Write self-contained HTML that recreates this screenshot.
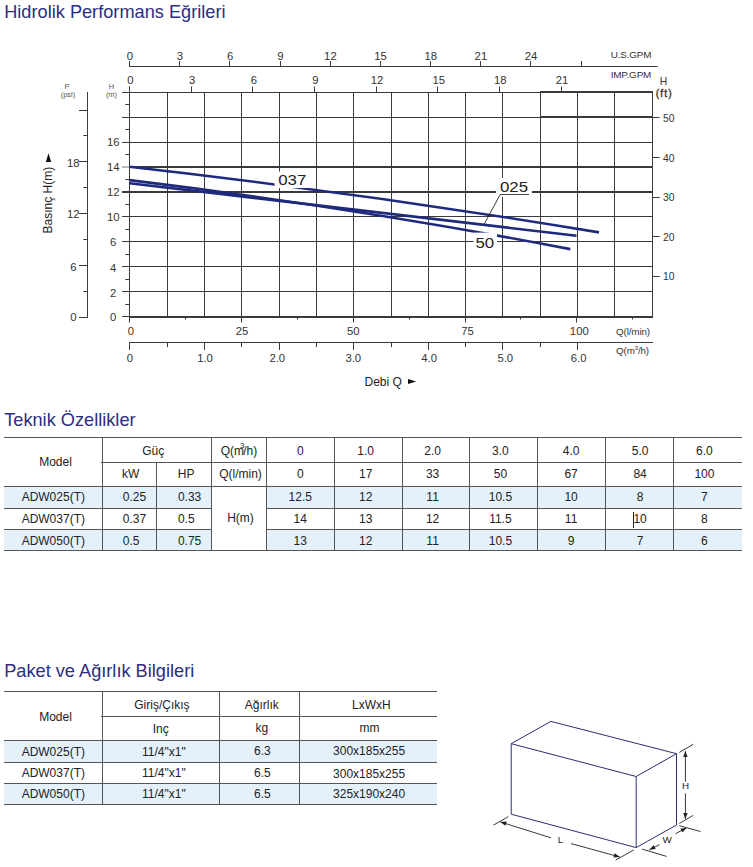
<!DOCTYPE html>
<html><head><meta charset="utf-8"><title>Hidrolik Performans Eğrileri</title>
<style>
html,body{margin:0;padding:0;background:#fff;}
body{width:753px;height:867px;position:relative;overflow:hidden;font-family:"Liberation Sans",Arial,sans-serif;}
.h{position:absolute;left:4.2px;margin:0;font-weight:normal;font-size:18.2px;color:#2c2e82;white-space:nowrap;line-height:1;}
svg{position:absolute;left:0;top:0;}
svg text{font-family:"Liberation Sans",Arial,sans-serif;fill:#333;}
.ax{font-size:11.3px;}
.ax11{font-size:10.4px;}
.ax2{font-size:9.9px;letter-spacing:-0.15px;}
.sm{font-size:7.5px;fill:#555 !important;}
.lbl{font-size:12px;fill:#222 !important;}
.big{font-size:14.4px;fill:#222 !important;}
.bx{font-size:9.8px;fill:#222 !important;}
.hl,.vl{position:absolute;}
.c{position:absolute;font-size:12px;color:#222;white-space:nowrap;}
.tt{font-size:12px;fill:#222 !important;}
.sup{font-size:8px;position:relative;top:-5px;margin-left:-4px;margin-right:-1px;}
</style></head><body>
<h1 class="h" style="top:3px">Hidrolik Performans Eğrileri</h1>
<h2 class="h" style="top:411px">Teknik Özellikler</h2>
<h2 class="h" style="top:662px">Paket ve Ağırlık Bilgileri</h2>
<div class="hl" style="left:4px;top:486px;width:207px;height:22px;background:#e4f1fb"></div>
<div class="hl" style="left:266px;top:486px;width:476px;height:22px;background:#e4f1fb"></div>
<div class="hl" style="left:4px;top:529px;width:207px;height:21px;background:#e4f1fb"></div>
<div class="hl" style="left:266px;top:529px;width:476px;height:21px;background:#e4f1fb"></div>
<div class="hl" style="left:4px;top:437px;width:738px;height:1px;background:#555"></div>
<div class="hl" style="left:101px;top:462px;width:641px;height:1px;background:#555"></div>
<div class="hl" style="left:4px;top:486px;width:738px;height:1px;background:#555"></div>
<div class="hl" style="left:4px;top:508px;width:207px;height:1px;background:#555"></div>
<div class="hl" style="left:266px;top:508px;width:476px;height:1px;background:#555"></div>
<div class="hl" style="left:4px;top:529px;width:207px;height:1px;background:#555"></div>
<div class="hl" style="left:266px;top:529px;width:476px;height:1px;background:#555"></div>
<div class="hl" style="left:4px;top:550px;width:738px;height:1px;background:#555"></div>
<div class="vl" style="left:102px;top:437px;width:1px;height:113px;background:#555"></div>
<div class="vl" style="left:156px;top:462px;width:1px;height:88px;background:#555"></div>
<div class="vl" style="left:211px;top:437px;width:1px;height:113px;background:#555"></div>
<div class="vl" style="left:266px;top:437px;width:1px;height:113px;background:#555"></div>
<div class="vl" style="left:334px;top:437px;width:1px;height:113px;background:#555"></div>
<div class="vl" style="left:402px;top:437px;width:1px;height:113px;background:#555"></div>
<div class="vl" style="left:469px;top:437px;width:1px;height:113px;background:#555"></div>
<div class="vl" style="left:537px;top:437px;width:1px;height:113px;background:#555"></div>
<div class="vl" style="left:605px;top:437px;width:1px;height:113px;background:#555"></div>
<div class="vl" style="left:673px;top:437px;width:1px;height:113px;background:#555"></div>
<div class="vl" style="left:633px;top:511.5px;width:1px;height:16.0px;background:#222"></div>
<div class="hl" style="left:4px;top:740px;width:433px;height:22px;background:#e4f1fb"></div>
<div class="hl" style="left:4px;top:783px;width:433px;height:21px;background:#e4f1fb"></div>
<div class="hl" style="left:4px;top:691px;width:433px;height:1px;background:#555"></div>
<div class="hl" style="left:101px;top:716px;width:336px;height:1px;background:#555"></div>
<div class="hl" style="left:4px;top:740px;width:433px;height:1px;background:#555"></div>
<div class="hl" style="left:4px;top:762px;width:433px;height:1px;background:#555"></div>
<div class="hl" style="left:4px;top:783px;width:433px;height:1px;background:#555"></div>
<div class="hl" style="left:4px;top:804px;width:433px;height:1px;background:#555"></div>
<div class="vl" style="left:102px;top:691px;width:1px;height:113px;background:#555"></div>
<div class="vl" style="left:219px;top:691px;width:1px;height:113px;background:#555"></div>
<div class="vl" style="left:299px;top:691px;width:1px;height:113px;background:#555"></div>
<svg width="753" height="867" viewBox="0 0 753 867">
<line x1="129" y1="66.5" x2="657.5" y2="66.5" stroke="#3a3a3a" stroke-width="1"/>
<line x1="129.5" y1="61" x2="129.5" y2="66.5" stroke="#3a3a3a" stroke-width="1"/>
<text x="129.8" y="60.4" class="ax" text-anchor="middle">0</text>
<line x1="179.5" y1="61" x2="179.5" y2="66.5" stroke="#3a3a3a" stroke-width="1"/>
<text x="180.0" y="60.4" class="ax" text-anchor="middle">3</text>
<line x1="229.5" y1="61" x2="229.5" y2="66.5" stroke="#3a3a3a" stroke-width="1"/>
<text x="230.1" y="60.4" class="ax" text-anchor="middle">6</text>
<line x1="280.5" y1="61" x2="280.5" y2="66.5" stroke="#3a3a3a" stroke-width="1"/>
<text x="280.3" y="60.4" class="ax" text-anchor="middle">9</text>
<line x1="330.5" y1="61" x2="330.5" y2="66.5" stroke="#3a3a3a" stroke-width="1"/>
<text x="330.4" y="60.4" class="ax" text-anchor="middle">12</text>
<line x1="380.5" y1="61" x2="380.5" y2="66.5" stroke="#3a3a3a" stroke-width="1"/>
<text x="380.6" y="60.4" class="ax" text-anchor="middle">15</text>
<line x1="430.5" y1="61" x2="430.5" y2="66.5" stroke="#3a3a3a" stroke-width="1"/>
<text x="430.8" y="60.4" class="ax" text-anchor="middle">18</text>
<line x1="480.5" y1="61" x2="480.5" y2="66.5" stroke="#3a3a3a" stroke-width="1"/>
<text x="480.9" y="60.4" class="ax" text-anchor="middle">21</text>
<line x1="530.5" y1="61" x2="530.5" y2="66.5" stroke="#3a3a3a" stroke-width="1"/>
<text x="531.1" y="60.4" class="ax" text-anchor="middle">24</text>
<line x1="581.5" y1="61" x2="581.5" y2="66.5" stroke="#3a3a3a" stroke-width="1"/>
<text x="610.7" y="58.3" class="ax2">U.S.GPM</text>
<text x="610.7" y="78.3" class="ax2">IMP.GPM</text>
<line x1="129.5" y1="86.5" x2="129.5" y2="92" stroke="#3a3a3a" stroke-width="1"/>
<text x="130.5" y="84.0" class="ax" text-anchor="middle">0</text>
<line x1="191.5" y1="86.5" x2="191.5" y2="92" stroke="#3a3a3a" stroke-width="1"/>
<text x="192.1" y="84.0" class="ax" text-anchor="middle">3</text>
<line x1="252.5" y1="86.5" x2="252.5" y2="92" stroke="#3a3a3a" stroke-width="1"/>
<text x="253.8" y="84.0" class="ax" text-anchor="middle">6</text>
<line x1="314.5" y1="86.5" x2="314.5" y2="92" stroke="#3a3a3a" stroke-width="1"/>
<text x="315.4" y="84.0" class="ax" text-anchor="middle">9</text>
<line x1="376.5" y1="86.5" x2="376.5" y2="92" stroke="#3a3a3a" stroke-width="1"/>
<text x="377.1" y="84.0" class="ax" text-anchor="middle">12</text>
<line x1="437.5" y1="86.5" x2="437.5" y2="92" stroke="#3a3a3a" stroke-width="1"/>
<text x="438.7" y="84.0" class="ax" text-anchor="middle">15</text>
<line x1="499.5" y1="86.5" x2="499.5" y2="92" stroke="#3a3a3a" stroke-width="1"/>
<text x="500.3" y="84.0" class="ax" text-anchor="middle">18</text>
<line x1="561.5" y1="86.5" x2="561.5" y2="92" stroke="#3a3a3a" stroke-width="1"/>
<text x="562.0" y="84.0" class="ax" text-anchor="middle">21</text>
<line x1="122" y1="92.5" x2="540" y2="92.5" stroke="#3a3a3a" stroke-width="1"/>
<line x1="122" y1="117.5" x2="540" y2="117.5" stroke="#3a3a3a" stroke-width="1"/>
<line x1="540" y1="92" x2="653" y2="92" stroke="#3a3a3a" stroke-width="2"/>
<line x1="540" y1="117" x2="653" y2="117" stroke="#3a3a3a" stroke-width="2"/>
<line x1="122" y1="142.5" x2="653" y2="142.5" stroke="#3a3a3a" stroke-width="1"/>
<line x1="122" y1="216.5" x2="653" y2="216.5" stroke="#3a3a3a" stroke-width="1"/>
<line x1="122" y1="241.5" x2="653" y2="241.5" stroke="#3a3a3a" stroke-width="1"/>
<line x1="122" y1="266.5" x2="653" y2="266.5" stroke="#3a3a3a" stroke-width="1"/>
<line x1="122" y1="291.5" x2="653" y2="291.5" stroke="#3a3a3a" stroke-width="1"/>
<line x1="122" y1="167" x2="129" y2="167" stroke="#aaa" stroke-width="1.6"/>
<line x1="129" y1="167" x2="653" y2="167" stroke="#3a3a3a" stroke-width="2"/>
<line x1="122" y1="192" x2="653" y2="192" stroke="#3a3a3a" stroke-width="2"/>
<line x1="122" y1="316.5" x2="129" y2="316.5" stroke="#3a3a3a" stroke-width="1"/>
<line x1="129" y1="317" x2="653" y2="317" stroke="#3a3a3a" stroke-width="2"/>
<line x1="125.3" y1="104.5" x2="129.5" y2="104.5" stroke="#3a3a3a" stroke-width="1"/>
<line x1="125.3" y1="129.5" x2="129.5" y2="129.5" stroke="#3a3a3a" stroke-width="1"/>
<line x1="125.3" y1="154.5" x2="129.5" y2="154.5" stroke="#3a3a3a" stroke-width="1"/>
<line x1="125.3" y1="179.5" x2="129.5" y2="179.5" stroke="#3a3a3a" stroke-width="1"/>
<line x1="125.3" y1="204.5" x2="129.5" y2="204.5" stroke="#3a3a3a" stroke-width="1"/>
<line x1="125.3" y1="229.5" x2="129.5" y2="229.5" stroke="#3a3a3a" stroke-width="1"/>
<line x1="125.3" y1="254.5" x2="129.5" y2="254.5" stroke="#3a3a3a" stroke-width="1"/>
<line x1="125.3" y1="279.5" x2="129.5" y2="279.5" stroke="#3a3a3a" stroke-width="1"/>
<line x1="125.3" y1="304.5" x2="129.5" y2="304.5" stroke="#3a3a3a" stroke-width="1"/>
<line x1="129.5" y1="86.5" x2="129.5" y2="317" stroke="#3a3a3a" stroke-width="1"/>
<line x1="167.5" y1="92" x2="167.5" y2="317" stroke="#3a3a3a" stroke-width="1"/>
<line x1="204.5" y1="92" x2="204.5" y2="317" stroke="#3a3a3a" stroke-width="1"/>
<line x1="241.5" y1="92" x2="241.5" y2="317" stroke="#3a3a3a" stroke-width="1"/>
<line x1="279.5" y1="92" x2="279.5" y2="317" stroke="#3a3a3a" stroke-width="1"/>
<line x1="316.5" y1="92" x2="316.5" y2="317" stroke="#3a3a3a" stroke-width="1"/>
<line x1="353.5" y1="92" x2="353.5" y2="317" stroke="#3a3a3a" stroke-width="1"/>
<line x1="391.5" y1="92" x2="391.5" y2="317" stroke="#3a3a3a" stroke-width="1"/>
<line x1="428.5" y1="92" x2="428.5" y2="317" stroke="#3a3a3a" stroke-width="1"/>
<line x1="465.5" y1="92" x2="465.5" y2="317" stroke="#3a3a3a" stroke-width="1"/>
<line x1="502.5" y1="92" x2="502.5" y2="317" stroke="#3a3a3a" stroke-width="1"/>
<line x1="540.5" y1="92" x2="540.5" y2="317" stroke="#3a3a3a" stroke-width="1"/>
<line x1="577.5" y1="92" x2="577.5" y2="317" stroke="#3a3a3a" stroke-width="1"/>
<line x1="614.5" y1="92" x2="614.5" y2="317" stroke="#3a3a3a" stroke-width="1"/>
<line x1="652.5" y1="92" x2="652.5" y2="317" stroke="#3a3a3a" stroke-width="1"/>
<text x="113.2" y="146.0" class="ax" text-anchor="middle">16</text>
<text x="113.2" y="171.1" class="ax" text-anchor="middle">14</text>
<text x="113.2" y="196.1" class="ax" text-anchor="middle">12</text>
<text x="113.2" y="221.1" class="ax" text-anchor="middle">10</text>
<text x="113.2" y="246.4" class="ax" text-anchor="middle">6</text>
<text x="113.2" y="271.5" class="ax" text-anchor="middle">4</text>
<text x="113.2" y="296.6" class="ax" text-anchor="middle">2</text>
<text x="113.2" y="320.5" class="ax" text-anchor="middle">0</text>
<text x="111.5" y="88.6" class="sm" text-anchor="middle">H</text>
<text x="111.5" y="97" class="sm" text-anchor="middle">(m)</text>
<text x="67" y="88.8" class="sm" text-anchor="middle">P</text>
<text x="68" y="97" class="sm" text-anchor="middle">(psi)</text>
<line x1="87.5" y1="92" x2="87.5" y2="318" stroke="#3a3a3a" stroke-width="1"/>
<line x1="79" y1="317.5" x2="87.5" y2="317.5" stroke="#3a3a3a" stroke-width="1"/>
<line x1="79" y1="265.5" x2="87.5" y2="265.5" stroke="#3a3a3a" stroke-width="1"/>
<line x1="79" y1="213.5" x2="87.5" y2="213.5" stroke="#3a3a3a" stroke-width="1"/>
<line x1="79" y1="161.5" x2="87.5" y2="161.5" stroke="#3a3a3a" stroke-width="1"/>
<line x1="79" y1="110.5" x2="87.5" y2="110.5" stroke="#3a3a3a" stroke-width="1"/>
<line x1="83.3" y1="291.5" x2="87.5" y2="291.5" stroke="#3a3a3a" stroke-width="1"/>
<line x1="83.3" y1="239.5" x2="87.5" y2="239.5" stroke="#3a3a3a" stroke-width="1"/>
<line x1="83.3" y1="187.5" x2="87.5" y2="187.5" stroke="#3a3a3a" stroke-width="1"/>
<line x1="83.3" y1="135.5" x2="87.5" y2="135.5" stroke="#3a3a3a" stroke-width="1"/>
<text x="73.3" y="320.9" class="ax" text-anchor="middle">0</text>
<text x="73.3" y="270.6" class="ax" text-anchor="middle">6</text>
<text x="73.3" y="218.4" class="ax" text-anchor="middle">12</text>
<text x="73.3" y="167.2" class="ax" text-anchor="middle">18</text>
<text transform="translate(52.3,233.5) rotate(-90)" class="lbl">Basınç H(m)</text>
<path d="M45.8,161.9 L51.2,161.9 L48.5,153.3 Z" fill="#111"/>
<line x1="652.5" y1="117.5" x2="659.7" y2="117.5" stroke="#3a3a3a" stroke-width="1"/>
<text x="663" y="121.5" class="ax11">50</text>
<line x1="652.5" y1="157.5" x2="659.7" y2="157.5" stroke="#3a3a3a" stroke-width="1"/>
<text x="663" y="161.6" class="ax11">40</text>
<line x1="652.5" y1="197.5" x2="659.7" y2="197.5" stroke="#3a3a3a" stroke-width="1"/>
<text x="663" y="201.4" class="ax11">30</text>
<line x1="652.5" y1="236.5" x2="659.7" y2="236.5" stroke="#3a3a3a" stroke-width="1"/>
<text x="663" y="240.7" class="ax11">20</text>
<line x1="652.5" y1="276.5" x2="659.7" y2="276.5" stroke="#3a3a3a" stroke-width="1"/>
<text x="663" y="280.3" class="ax11">10</text>
<text x="663.4" y="84.7" class="ax11" text-anchor="middle">H</text>
<text x="664.2" y="96.9" class="ax11" text-anchor="middle" font-size="9.8" letter-spacing="1.1" stroke="#333" stroke-width="0.35">(ft)</text>
<line x1="129.5" y1="317" x2="129.5" y2="322.5" stroke="#3a3a3a" stroke-width="1"/>
<text x="131" y="335.3" class="ax" text-anchor="middle">0</text>
<line x1="185.5" y1="317" x2="185.5" y2="319.5" stroke="#3a3a3a" stroke-width="1"/>
<line x1="241.5" y1="317" x2="241.5" y2="322.5" stroke="#3a3a3a" stroke-width="1"/>
<text x="242.1" y="335.3" class="ax" text-anchor="middle">25</text>
<line x1="297.5" y1="317" x2="297.5" y2="319.5" stroke="#3a3a3a" stroke-width="1"/>
<line x1="353.5" y1="317" x2="353.5" y2="322.5" stroke="#3a3a3a" stroke-width="1"/>
<text x="353.2" y="335.3" class="ax" text-anchor="middle">50</text>
<line x1="409.5" y1="317" x2="409.5" y2="319.5" stroke="#3a3a3a" stroke-width="1"/>
<line x1="465.5" y1="317" x2="465.5" y2="322.5" stroke="#3a3a3a" stroke-width="1"/>
<text x="467.6" y="335.3" class="ax" text-anchor="middle">75</text>
<line x1="520.5" y1="317" x2="520.5" y2="319.5" stroke="#3a3a3a" stroke-width="1"/>
<line x1="576.5" y1="317" x2="576.5" y2="322.5" stroke="#3a3a3a" stroke-width="1"/>
<text x="579.3" y="335.3" class="ax" text-anchor="middle">100</text>
<line x1="632.5" y1="317" x2="632.5" y2="319.5" stroke="#3a3a3a" stroke-width="1"/>
<text x="616" y="335" class="ax2">Q(l/min)</text>
<line x1="129" y1="342.5" x2="653" y2="342.5" stroke="#3a3a3a" stroke-width="1"/>
<line x1="129.5" y1="342.5" x2="129.5" y2="350" stroke="#3a3a3a" stroke-width="1"/>
<text x="130" y="362.4" class="ax" text-anchor="middle">0</text>
<line x1="167.5" y1="342.5" x2="167.5" y2="347" stroke="#3a3a3a" stroke-width="1"/>
<line x1="204.5" y1="342.5" x2="204.5" y2="350" stroke="#3a3a3a" stroke-width="1"/>
<text x="205" y="362.4" class="ax" text-anchor="middle">1.0</text>
<line x1="241.5" y1="342.5" x2="241.5" y2="347" stroke="#3a3a3a" stroke-width="1"/>
<line x1="279.5" y1="342.5" x2="279.5" y2="350" stroke="#3a3a3a" stroke-width="1"/>
<text x="277.3" y="362.4" class="ax" text-anchor="middle">2.0</text>
<line x1="316.5" y1="342.5" x2="316.5" y2="347" stroke="#3a3a3a" stroke-width="1"/>
<line x1="353.5" y1="342.5" x2="353.5" y2="350" stroke="#3a3a3a" stroke-width="1"/>
<text x="353.3" y="362.4" class="ax" text-anchor="middle">3.0</text>
<line x1="391.5" y1="342.5" x2="391.5" y2="347" stroke="#3a3a3a" stroke-width="1"/>
<line x1="428.5" y1="342.5" x2="428.5" y2="350" stroke="#3a3a3a" stroke-width="1"/>
<text x="429.2" y="362.4" class="ax" text-anchor="middle">4.0</text>
<line x1="465.5" y1="342.5" x2="465.5" y2="347" stroke="#3a3a3a" stroke-width="1"/>
<line x1="502.5" y1="342.5" x2="502.5" y2="350" stroke="#3a3a3a" stroke-width="1"/>
<text x="505.3" y="362.4" class="ax" text-anchor="middle">5.0</text>
<line x1="540.5" y1="342.5" x2="540.5" y2="347" stroke="#3a3a3a" stroke-width="1"/>
<line x1="577.5" y1="342.5" x2="577.5" y2="350" stroke="#3a3a3a" stroke-width="1"/>
<text x="578.6" y="362.4" class="ax" text-anchor="middle">6.0</text>
<text x="616" y="353.9" class="ax2">Q(m<tspan dy="-4" font-size="6">3</tspan><tspan dy="4">/h)</tspan></text>
<text x="364.5" y="385.5" class="lbl">Debi Q</text>
<path d="M408,378.9 L408,384 L416.2,381.4 Z" fill="#111"/>
<path d="M129.5,166.75 Q364.25,193.39 599,232.38" fill="none" stroke="#1f2a7c" stroke-width="2.6"/>
<path d="M129.5,183.25 Q353.00,209.49 576.5,235.73" fill="none" stroke="#1f2a7c" stroke-width="2.6"/>
<path d="M129.5,180.10 Q349.90,206.94 570.3,249.14" fill="none" stroke="#1f2a7c" stroke-width="2.6"/>
<rect x="274.6" y="171.6" width="38" height="16.4" fill="#fff"/>
<text transform="translate(278.2,185.3) scale(1.17,1)" class="big">037</text>
<rect x="495.9" y="177.8" width="36" height="19" fill="#fff"/>
<text transform="translate(500.0,191.7) scale(1.17,1)" class="big">025</text>
<line x1="500" y1="194.5" x2="529" y2="194.5" stroke="#444" stroke-width="1"/>
<line x1="500.2" y1="194.5" x2="484.3" y2="224" stroke="#222" stroke-width="0.9"/>
<rect x="473.6" y="232.6" width="23.4" height="18" fill="#fff"/>
<text transform="translate(475.5,247.9) scale(1.17,1)" class="big">50</text>
<line x1="550.8" y1="721.4" x2="511.2" y2="743.7" stroke="#2b3070" stroke-width="1.0"/>
<line x1="550.8" y1="721.4" x2="676.5" y2="753.7" stroke="#2b3070" stroke-width="1.0"/>
<line x1="511.2" y1="743.7" x2="636.2" y2="776.5" stroke="#2b3070" stroke-width="1.0"/>
<line x1="676.5" y1="753.7" x2="636.2" y2="776.5" stroke="#2b3070" stroke-width="1.0"/>
<line x1="511.2" y1="743.7" x2="511.2" y2="814.2" stroke="#2b3070" stroke-width="1.0"/>
<line x1="636.2" y1="776.5" x2="636.2" y2="847.6" stroke="#2b3070" stroke-width="1.0"/>
<line x1="676.5" y1="753.7" x2="676.5" y2="825" stroke="#2b3070" stroke-width="1.0"/>
<line x1="511.2" y1="814.2" x2="636.2" y2="847.6" stroke="#2b3070" stroke-width="1.0"/>
<line x1="636.2" y1="847.6" x2="676.5" y2="825" stroke="#2b3070" stroke-width="1.0"/>
<line x1="493.5" y1="825.1" x2="508.4" y2="816.6" stroke="#222" stroke-width="0.9"/>
<line x1="615.7" y1="860.1" x2="633.7" y2="850" stroke="#222" stroke-width="0.9"/>
<line x1="500.3" y1="821.9" x2="550.9" y2="837.8" stroke="#222" stroke-width="0.9"/>
<line x1="571.1" y1="843.6" x2="619.9" y2="857" stroke="#222" stroke-width="0.9"/>
<path d="M500.3,821.9 L506.7,821.6 L505.4,825.8 Z" fill="#222"/>
<path d="M619.9,857.0 L613.5,857.5 L614.7,853.3 Z" fill="#222"/>
<text x="560.4" y="843" class="bx" text-anchor="middle">L</text>
<line x1="679.3" y1="752.4" x2="693.2" y2="744.4" stroke="#222" stroke-width="0.9"/>
<line x1="679.3" y1="823.5" x2="693.2" y2="815.4" stroke="#222" stroke-width="0.9"/>
<line x1="685.4" y1="751" x2="685.4" y2="781.7" stroke="#222" stroke-width="0.9"/>
<line x1="685.4" y1="793.4" x2="685.4" y2="819.1" stroke="#222" stroke-width="0.9"/>
<path d="M685.4,751.0 L687.6,757.0 L683.2,757.0 Z" fill="#222"/>
<path d="M685.4,819.1 L683.2,813.1 L687.6,813.1 Z" fill="#222"/>
<text x="685.6" y="789.3" class="bx" text-anchor="middle">H</text>
<line x1="679.3" y1="825.7" x2="700.5" y2="831.5" stroke="#222" stroke-width="0.9"/>
<line x1="642" y1="849.1" x2="666.6" y2="856.4" stroke="#222" stroke-width="0.9"/>
<line x1="686.6" y1="827.8" x2="675.6" y2="833.7" stroke="#222" stroke-width="0.9"/>
<line x1="659.5" y1="844.7" x2="649.3" y2="849.8" stroke="#222" stroke-width="0.9"/>
<path d="M686.6,827.8 L682.4,832.6 L680.3,828.7 Z" fill="#222"/>
<path d="M649.3,849.8 L653.7,845.1 L655.7,849.1 Z" fill="#222"/>
<text x="667" y="843.4" class="bx" text-anchor="middle">W</text>
<text x="55.5" y="466.0" class="tt" text-anchor="middle">Model</text>
<text x="153.2" y="454.9" class="tt" text-anchor="middle">Güç</text>
<text x="239.0" y="454.9" class="tt" text-anchor="middle">Q(m<tspan font-size="8" dy="-6.8" dx="-4">3</tspan><tspan dy="6.8" dx="-1.2">/h)</tspan></text>
<text x="130.7" y="478.1" class="tt" text-anchor="middle">kW</text>
<text x="186.1" y="478.1" class="tt" text-anchor="middle">HP</text>
<text x="240.5" y="478.1" class="tt" text-anchor="middle">Q(l/min)</text>
<text x="240.5" y="521.6" class="tt" text-anchor="middle">H(m)</text>
<text x="300.3" y="454.7" class="tt" text-anchor="middle">0</text>
<text x="300.3" y="478.0" class="tt" text-anchor="middle">0</text>
<text x="365.7" y="454.7" class="tt" text-anchor="middle">1.0</text>
<text x="365.7" y="478.0" class="tt" text-anchor="middle">17</text>
<text x="432.6" y="454.7" class="tt" text-anchor="middle">2.0</text>
<text x="432.6" y="478.0" class="tt" text-anchor="middle">33</text>
<text x="500.4" y="454.7" class="tt" text-anchor="middle">3.0</text>
<text x="500.4" y="478.0" class="tt" text-anchor="middle">50</text>
<text x="571.1" y="454.7" class="tt" text-anchor="middle">4.0</text>
<text x="571.1" y="478.0" class="tt" text-anchor="middle">67</text>
<text x="640.1" y="454.7" class="tt" text-anchor="middle">5.0</text>
<text x="640.1" y="478.0" class="tt" text-anchor="middle">84</text>
<text x="704.4" y="454.7" class="tt" text-anchor="middle">6.0</text>
<text x="704.4" y="478.0" class="tt" text-anchor="middle">100</text>
<text x="53.3" y="501.2" class="tt" text-anchor="middle">ADW025(T)</text>
<text x="122.8" y="501.2" class="tt" text-anchor="start">0.25</text>
<text x="177.9" y="501.2" class="tt" text-anchor="start">0.33</text>
<text x="300.3" y="501.2" class="tt" text-anchor="middle">12.5</text>
<text x="365.7" y="501.2" class="tt" text-anchor="middle">12</text>
<text x="432.6" y="501.2" class="tt" text-anchor="middle">11</text>
<text x="500.4" y="501.2" class="tt" text-anchor="middle">10.5</text>
<text x="571.1" y="501.2" class="tt" text-anchor="middle">10</text>
<text x="640.1" y="501.2" class="tt" text-anchor="middle">8</text>
<text x="704.4" y="501.2" class="tt" text-anchor="middle">7</text>
<text x="53.3" y="522.9" class="tt" text-anchor="middle">ADW037(T)</text>
<text x="122.8" y="522.9" class="tt" text-anchor="start">0.37</text>
<text x="177.9" y="522.9" class="tt" text-anchor="start">0.5</text>
<text x="300.3" y="522.9" class="tt" text-anchor="middle">14</text>
<text x="365.7" y="522.9" class="tt" text-anchor="middle">13</text>
<text x="432.6" y="522.9" class="tt" text-anchor="middle">12</text>
<text x="500.4" y="522.9" class="tt" text-anchor="middle">11.5</text>
<text x="571.1" y="522.9" class="tt" text-anchor="middle">11</text>
<text x="640.1" y="522.9" class="tt" text-anchor="middle">10</text>
<text x="704.4" y="522.9" class="tt" text-anchor="middle">8</text>
<text x="53.3" y="544.5" class="tt" text-anchor="middle">ADW050(T)</text>
<text x="122.8" y="544.5" class="tt" text-anchor="start">0.5</text>
<text x="177.9" y="544.5" class="tt" text-anchor="start">0.75</text>
<text x="300.3" y="544.5" class="tt" text-anchor="middle">13</text>
<text x="365.7" y="544.5" class="tt" text-anchor="middle">12</text>
<text x="432.6" y="544.5" class="tt" text-anchor="middle">11</text>
<text x="500.4" y="544.5" class="tt" text-anchor="middle">10.5</text>
<text x="571.1" y="544.5" class="tt" text-anchor="middle">9</text>
<text x="640.1" y="544.5" class="tt" text-anchor="middle">7</text>
<text x="704.4" y="544.5" class="tt" text-anchor="middle">6</text>
<text x="55.5" y="720.6" class="tt" text-anchor="middle">Model</text>
<text x="161.9" y="708.5" class="tt" text-anchor="middle">Giriş/Çıkış</text>
<text x="261.8" y="708.5" class="tt" text-anchor="middle">Ağırlık</text>
<text x="371.3" y="708.5" class="tt" text-anchor="middle">LxWxH</text>
<text x="160.8" y="732.6" class="tt" text-anchor="middle">Inç</text>
<text x="261.8" y="732.3" class="tt" text-anchor="middle">kg</text>
<text x="369.4" y="731.9" class="tt" text-anchor="middle">mm</text>
<text x="53.3" y="756.1" class="tt" text-anchor="middle">ADW025(T)</text>
<text x="163.9" y="755.6" class="tt" text-anchor="middle">11/4"x1"</text>
<text x="262.3" y="754.7" class="tt" text-anchor="middle">6.3</text>
<text x="369.1" y="754.7" class="tt" text-anchor="middle">300x185x255</text>
<text x="53.3" y="776.8" class="tt" text-anchor="middle">ADW037(T)</text>
<text x="163.9" y="776.7" class="tt" text-anchor="middle">11/4"x1"</text>
<text x="262.3" y="776.7" class="tt" text-anchor="middle">6.5</text>
<text x="369.1" y="778.3" class="tt" text-anchor="middle">300x185x255</text>
<text x="53.3" y="797.9" class="tt" text-anchor="middle">ADW050(T)</text>
<text x="163.9" y="797.8" class="tt" text-anchor="middle">11/4"x1"</text>
<text x="262.3" y="797.8" class="tt" text-anchor="middle">6.5</text>
<text x="369.1" y="797.8" class="tt" text-anchor="middle">325x190x240</text>
</svg>
</body></html>
